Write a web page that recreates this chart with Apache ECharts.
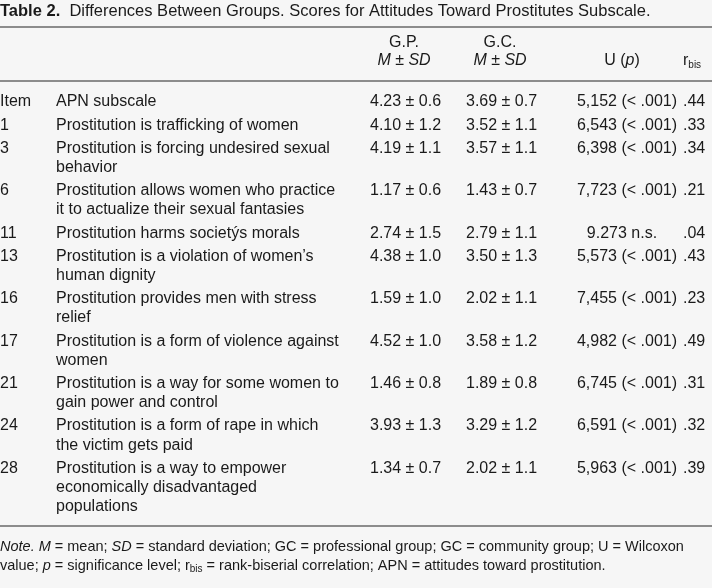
<!DOCTYPE html>
<html><head><meta charset="utf-8">
<script src="https://cdn.jsdelivr.net/npm/echarts@6/dist/echarts.min.js"></script>
<style>html,body{margin:0;padding:0;background:#f6f6f6}#chartMain{width:712px;height:588px}</style>
</head><body>
<div id="chartMain"></div>
<script>
// table data
var items = ['Item', '1', '3', '6', '11', '13', '16', '17', '21', '24', '28'];
var statements = [
    ['APN subscale'],
    ['Prostitution is trafficking of women'],
    ['Prostitution is forcing undesired sexual', 'behavior'],
    ['Prostitution allows women who practice', 'it to actualize their sexual fantasies'],
    ['Prostitution harms societ\u00fds morals'],
    ['Prostitution is a violation of women\u2019s', 'human dignity'],
    ['Prostitution provides men with stress', 'relief'],
    ['Prostitution is a form of violence against', 'women'],
    ['Prostitution is a way for some women to', 'gain power and control'],
    ['Prostitution is a form of rape in which', 'the victim gets paid'],
    ['Prostitution is a way to empower', 'economically disadvantaged', 'populations']
];
var gpValues = ['4.23 \u00b1 0.6', '4.10 \u00b1 1.2', '4.19 \u00b1 1.1', '1.17 \u00b1 0.6', '2.74 \u00b1 1.5', '4.38 \u00b1 1.0', '1.59 \u00b1 1.0', '4.52 \u00b1 1.0', '1.46 \u00b1 0.8', '3.93 \u00b1 1.3', '1.34 \u00b1 0.7'];
var gcValues = ['3.69 \u00b1 0.7', '3.52 \u00b1 1.1', '3.57 \u00b1 1.1', '1.43 \u00b1 0.7', '2.79 \u00b1 1.1', '3.50 \u00b1 1.3', '2.02 \u00b1 1.1', '3.58 \u00b1 1.2', '1.89 \u00b1 0.8', '3.29 \u00b1 1.2', '2.02 \u00b1 1.1'];
var uValues = ['5,152 (< .001)', '6,543 (< .001)', '6,398 (< .001)', '7,723 (< .001)', '9.273 n.s.', '5,573 (< .001)', '7,455 (< .001)', '4,982 (< .001)', '6,745 (< .001)', '6,591 (< .001)', '5,963 (< .001)'];
var rbisValues = ['.44', '.33', '.34', '.21', '.04', '.43', '.23', '.49', '.31', '.32', '.39'];

var FONT = '"Liberation Sans", "DejaVu Sans", sans-serif';
var SIZE = 16;
var LINE_H = 19.2;
var ROW_GAP = 4;
var COLOR = '#1a1a1a';

function txt(x, y, s, align) {
    return {type: 'text', style: {x: x, y: y, text: s, fill: COLOR, font: SIZE + 'px ' + FONT, align: align || 'left', verticalAlign: 'middle'}};
}
function rule(y) {
    return {type: 'line', shape: {x1: 0, y1: y, x2: 712, y2: y}, style: {stroke: '#222', lineWidth: 1.2}};
}
var ital = {i: {fontStyle: 'italic', fontSize: SIZE, fontFamily: FONT}};

var els = [];
// title
els.push({type: 'text', style: {x: 0, y: 11, verticalAlign: 'middle', text: '{b|Table 2.}  Differences Between Groups. Scores for Attitudes Toward Prostitutes Subscale.',
    font: '16.5px ' + FONT, fill: COLOR, rich: {b: {fontWeight: 'bold', fontSize: 16.5, fontFamily: FONT}}}});
els.push(rule(27));
// header
els.push(txt(404, 43, 'G.P.', 'center'));
els.push(txt(500, 43, 'G.C.', 'center'));
[404, 500].forEach(function (cx) {
    els.push({type: 'text', style: {x: cx, y: 61, align: 'center', verticalAlign: 'middle', fill: COLOR, font: SIZE + 'px ' + FONT,
        text: '{i|M} \u00b1 {i|SD}', rich: ital}});
});
els.push({type: 'text', style: {x: 622, y: 61, align: 'center', verticalAlign: 'middle', fill: COLOR, font: SIZE + 'px ' + FONT,
    text: 'U ({i|p})', rich: ital}});
els.push({type: 'text', style: {x: 683, y: 61, verticalAlign: 'middle', fill: COLOR, font: SIZE + 'px ' + FONT,
    text: 'r{s|bis}', rich: {s: {fontSize: 10, fontFamily: FONT, padding: [8, 0, 0, 0]}}}});
els.push(rule(81));

// rows
var y = 102;
for (var i = 0; i < items.length; i++) {
    els.push(txt(0, y, items[i]));
    for (var j = 0; j < statements[i].length; j++) {
        els.push(txt(56, y + j * LINE_H, statements[i][j]));
    }
    els.push(txt(370, y, gpValues[i]));
    els.push(txt(466, y, gcValues[i]));
    els.push(txt(i === 4 ? 622 : 677, y, uValues[i], i === 4 ? 'center' : 'right'));
    els.push(txt(683, y, rbisValues[i]));
    y += statements[i].length * LINE_H + ROW_GAP;
}
els.push(rule(526));

// note
var noteRich = {i: {fontStyle: 'italic', fontSize: 14.5, fontFamily: FONT}, s: {fontSize: 10, fontFamily: FONT, padding: [6, 0, 0, 0]}};
els.push({type: 'text', style: {x: 0, y: 547, verticalAlign: 'middle', fill: COLOR, font: '14.5px ' + FONT, rich: noteRich,
    text: '{i|Note. M} = mean; {i|SD} = standard deviation; GC = professional group; GC = community group; U = Wilcoxon'}});
els.push({type: 'text', style: {x: 0, y: 566, verticalAlign: 'middle', fill: COLOR, font: '14.5px ' + FONT, rich: noteRich,
    text: 'value; {i|p} = significance level; r{s|bis} = rank-biserial correlation; APN = attitudes toward prostitution.'}});

var mychart = echarts.init(document.getElementById('chartMain'));
mychart.setOption({backgroundColor: '#f6f6f6', graphic: {elements: els}});
</script>
</body></html>
